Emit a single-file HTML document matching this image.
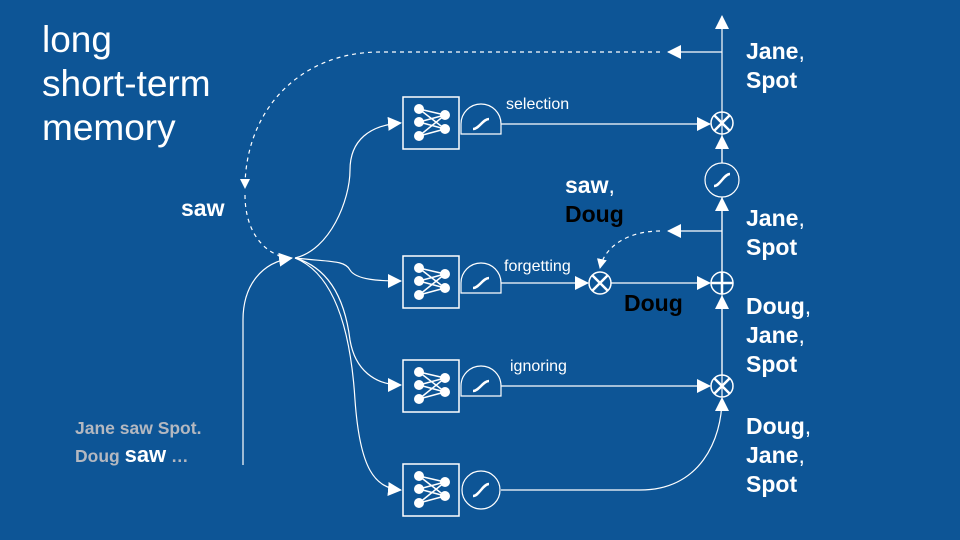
<!DOCTYPE html>
<html><head><meta charset="utf-8"><style>
body{margin:0;width:960px;height:540px;background:#0d5596;overflow:hidden;font-family:"Liberation Sans",sans-serif}
svg{position:absolute;left:0;top:0}
</style></head><body>
<svg width="960" height="540" viewBox="0 0 960 540">
<defs>
<marker id="a" markerWidth="10" markerHeight="10" refX="9" refY="5" orient="auto" markerUnits="userSpaceOnUse" viewBox="0 0 10 10"><path d="M0,0 L10,5 L0,10 z" fill="#fff"/></marker>
<marker id="b" markerWidth="14" markerHeight="14" refX="13" refY="7" orient="auto" markerUnits="userSpaceOnUse" viewBox="0 0 14 14"><path d="M0,0 L14,7 L0,14 z" fill="#fff"/></marker>
<g id="nn">
<rect x="0" y="0" width="56" height="52" fill="none" stroke="#fff" stroke-width="1.5"/>
<g stroke="#fff" stroke-width="1.5"><path d="M16,12 L42,18 M16,12 L42,32 M16,25 L42,18 M16,25 L42,32 M16,39 L42,18 M16,39 L42,32"/></g>
<g fill="#fff"><circle cx="16" cy="12" r="5"/><circle cx="16" cy="25" r="5"/><circle cx="16" cy="39" r="5"/><circle cx="42" cy="18" r="5"/><circle cx="42" cy="32" r="5"/></g>
</g>
<g id="half"><path d="M0,0 L0,-10 A20,20 0 0 1 40,-10 L40,0 Z" fill="none" stroke="#fff" stroke-width="1.2"/><path d="M12,-5 C18,-5 22,-15 28,-15" fill="none" stroke="#fff" stroke-width="2.5"/></g>
<g id="mul"><circle r="11" fill="none" stroke="#fff" stroke-width="1.5"/><path d="M-7.5,-7.5 L7.5,7.5 M7.5,-7.5 L-7.5,7.5" stroke="#fff" stroke-width="2.5"/></g>
</defs>
<g fill="none" stroke="#fff" stroke-width="1.2">
<path d="M722,397 L722,16" marker-end="url(#b)"/>
<path d="M722,52 L668,52" marker-end="url(#b)"/>
<path d="M660,52 L380,52 C300,52 245,110 245,188" stroke-dasharray="4,4" marker-end="url(#a)"/>
<path d="M722,231 L668,231" marker-end="url(#b)"/>
<path d="M660,231 C630,231 605,245 600,268" stroke-dasharray="4,4" marker-end="url(#a)"/>
<path d="M245,195 C245,225 258,248 280,256" stroke-dasharray="4,4"/>
<path d="M243,465 L243,320 C243,285 262,262 292,258" marker-end="url(#b)"/>
<path d="M295,258 C330,250 350,200 350,170 C350,140 370,125 401,123" marker-end="url(#b)"/>
<path d="M295,258 C330,262 345,260 350,270 C356,280 380,281 401,281" marker-end="url(#b)"/>
<path d="M295,258 C330,268 345,300 350,340 C355,370 375,385 401,385" marker-end="url(#b)"/>
<path d="M295,258 C330,272 350,320 355,400 C360,470 375,488 401,490" marker-end="url(#b)"/>
<path d="M501,124 L710,124" marker-end="url(#b)"/>
<path d="M501,283 L588,283" marker-end="url(#b)"/>
<path d="M611,283 L710,283" marker-end="url(#b)"/>
<path d="M501,386 L710,386" marker-end="url(#b)"/>
<path d="M501,490 L640,490 C700,490 722,440 722,398" marker-end="url(#b)"/>
<path d="M722,375 L722,296" marker-end="url(#b)"/>
<path d="M722,271 L722,198" marker-end="url(#b)"/>
<path d="M722,163 L722,136" marker-end="url(#b)"/>
</g>
<use href="#nn" x="403" y="97"/>
<use href="#nn" x="403" y="256"/>
<use href="#nn" x="403" y="360"/>
<use href="#nn" x="403" y="464"/>
<use href="#half" x="461" y="134"/>
<use href="#half" x="461" y="293"/>
<use href="#half" x="461" y="396"/>
<circle cx="481" cy="490" r="19" fill="none" stroke="#fff" stroke-width="1.2"/>
<path d="M473,496 C479,496 483,484 489,484" fill="none" stroke="#fff" stroke-width="2.5"/>
<circle cx="722" cy="180" r="17" fill="#0d5596" stroke="#fff" stroke-width="1.2"/>
<path d="M714,186 C720,186 724,174 730,174" fill="none" stroke="#fff" stroke-width="2.5"/>
<use href="#mul" x="722" y="123"/>
<use href="#mul" x="600" y="283"/>
<use href="#mul" x="722" y="386"/>
<circle cx="722" cy="283" r="11" fill="none" stroke="#fff" stroke-width="1.5"/>
<path d="M711,283 L733,283 M722,272 L722,294" stroke="#fff" stroke-width="2.5"/>
<g fill="#fff" font-family="Liberation Sans,sans-serif">
<text x="42" y="52" font-size="37">long</text>
<text x="42" y="96" font-size="37">short-term</text>
<text x="42" y="140" font-size="37">memory</text>
<text x="506" y="109" font-size="16">selection</text>
<text x="504" y="271" font-size="16">forgetting</text>
<text x="510" y="371" font-size="16">ignoring</text>
<text x="181" y="216" font-size="23" font-weight="bold">saw</text>
<text x="565" y="193" font-size="23" font-weight="bold">saw<tspan font-weight="normal">,</tspan></text>
<text x="565" y="222" font-size="23" font-weight="bold" fill="#000">Doug</text>
<text x="624" y="311" font-size="23" font-weight="bold" fill="#000">Doug</text>
<g font-size="23" font-weight="bold">
<text x="746" y="59">Jane<tspan font-weight="normal">,</tspan></text>
<text x="746" y="88">Spot</text>
<text x="746" y="226">Jane<tspan font-weight="normal">,</tspan></text>
<text x="746" y="255">Spot</text>
<text x="746" y="314">Doug<tspan font-weight="normal">,</tspan></text>
<text x="746" y="343">Jane<tspan font-weight="normal">,</tspan></text>
<text x="746" y="372">Spot</text>
<text x="746" y="434">Doug<tspan font-weight="normal">,</tspan></text>
<text x="746" y="463">Jane<tspan font-weight="normal">,</tspan></text>
<text x="746" y="492">Spot</text>
</g>
<text x="75" y="434" font-size="17.5" font-weight="bold" fill="#b4b8c0">Jane saw Spot.</text>
<text x="75" y="462" font-size="17.5" font-weight="bold" fill="#b4b8c0">Doug <tspan fill="#fff" font-size="22">saw</tspan> …</text>
</g>
</svg>
</body></html>
